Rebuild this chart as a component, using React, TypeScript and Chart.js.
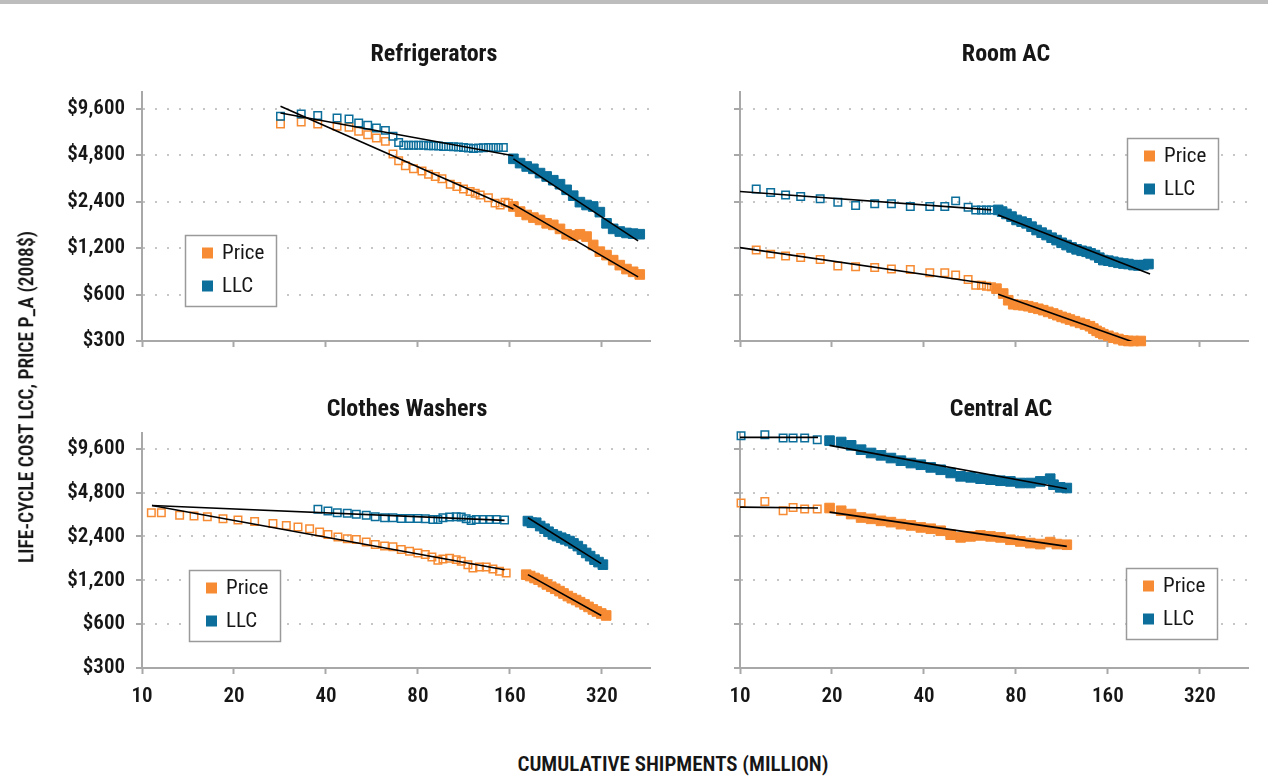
import React, { useEffect, useRef } from "react";
import { Chart, registerables } from "chart.js";

Chart.register(...registerables);

const FONT_FAMILY = "Roboto, 'Open Sans', sans-serif";
const TEXT = "#161616";
const ORANGE = "#F68B33";
const BLUE = "#0B6E9B";
const AXIS = "#A8A8A8";
const GRID = "#C6C6C6";

// ---- axis ticks ----
const xTickValues = [10, 20, 40, 80, 160, 320];
const yTickValues = [300, 600, 1200, 2400, 4800, 9600];
const yTickLabels = ["$300", "$600", "$1,200", "$2,400", "$4,800", "$9,600"];
const legendLabels = ["Price", "LLC"];

// ---- Refrigerators ----
const refPriceEarlyX = [28.4, 33.2, 37.6, 43.5, 47.6, 51.2, 54.8, 58.5, 62.6, 66.3, 69.2, 72.8, 77.4, 82.5, 86.7, 91.2, 95.9, 102.1, 107.3, 112.8, 118.6, 123.2, 127.9, 136.1, 143.1, 148.7, 154.3, 158.2];
const refPriceEarlyY = [7630, 7860, 7630, 7370, 7260, 6840, 6510, 6190, 5890, 4880, 4410, 4090, 3910, 3790, 3610, 3490, 3370, 3110, 3000, 2900, 2790, 2720, 2650, 2540, 2345, 2280, 2380, 2345];
const refLlcEarlyX = [28.4, 33.2, 37.6, 43.5, 47.6, 51.2, 54.8, 58.5, 62.6, 66.3, 69.2, 71.9, 74.6, 77.4, 80.4, 83.5, 86.7, 90.0, 93.5, 97.1, 100.8, 104.6, 108.6, 112.8, 117.1, 121.6, 126.2, 131.1, 136.1, 141.3, 146.7, 152.3];
const refLlcEarlyY = [8560, 8860, 8650, 8350, 8230, 7740, 7480, 7190, 6940, 6350, 5800, 5550, 5550, 5550, 5550, 5550, 5520, 5520, 5500, 5460, 5460, 5430, 5410, 5380, 5330, 5300, 5330, 5350, 5380, 5380, 5380, 5380];
const refLlcLateX = [164.3, 172.8, 181.6, 191.0, 200.8, 211.1, 221.9, 233.4, 245.4, 257.9, 271.2, 285.2, 299.8, 315.2, 331.5, 348.5, 366.3, 385.3, 405.0, 425.8];
const refLlcLateY = [4540, 4260, 4050, 3910, 3670, 3490, 3300, 3110, 2860, 2620, 2380, 2280, 2230, 2050, 1735, 1597, 1535, 1503, 1488, 1475];
const refPriceLateX = [164.3, 172.8, 181.6, 191.0, 200.8, 211.1, 221.9, 233.4, 245.4, 257.9, 271.2, 285.2, 299.8, 315.2, 331.5, 348.5, 366.3, 385.3, 405.0, 425.8];
const refPriceLateY = [2230, 2067, 1965, 1890, 1825, 1735, 1695, 1597, 1474, 1445, 1474, 1424, 1257, 1137, 1080, 1002, 930, 877, 842, 809];
const refFitPriceEarlyX = [28.4, 164.3];
const refFitPriceEarlyY = [9940, 2150];
const refFitLlcEarlyX = [28.4, 164.3];
const refFitLlcEarlyY = [8990, 4750];
const refFitLlcLateX = [164.3, 420.5];
const refFitLlcLateY = [4540, 1336];
const refFitPriceLateX = [164.3, 420.5];
const refFitPriceLateY = [2300, 780];

// ---- Room AC ----
const racLlcEarlyX = [11.3, 12.6, 14.1, 15.8, 18.3, 20.9, 23.9, 27.6, 31.3, 36.1, 41.8, 46.8, 50.8, 55.8, 59.1, 61.7, 64.1, 66.5];
const racLlcEarlyY = [2890, 2750, 2650, 2590, 2500, 2375, 2260, 2320, 2320, 2230, 2230, 2230, 2425, 2205, 2120, 2120, 2120, 2120];
const racPriceEarlyX = [11.3, 12.6, 14.1, 15.8, 18.3, 20.9, 23.9, 27.6, 31.3, 36.1, 41.8, 46.8, 50.8, 55.8, 59.1, 61.7, 64.1, 66.5];
const racPriceEarlyY = [1165, 1096, 1065, 1044, 1012, 917, 908, 899, 877, 872, 829, 829, 802, 750, 690, 690, 680, 673];
const racLlcLateX = [70.0, 72.1, 74.5, 77.4, 80.4, 83.5, 86.7, 90.0, 93.5, 97.1, 100.8, 104.7, 108.7, 112.9, 117.2, 121.7, 126.4, 131.3, 136.3, 140.5, 145.2, 150.0, 154.6, 160.6, 166.8, 173.2, 179.9, 186.7, 194.0, 201.4, 209.2, 217.2];
const racLlcLateY = [2120, 2066, 1995, 1918, 1825, 1779, 1735, 1651, 1570, 1510, 1457, 1400, 1351, 1298, 1255, 1211, 1177, 1152, 1135, 1108, 1080, 1039, 1003, 994, 978, 963, 952, 945, 931, 926, 931, 945];
const racPriceLateX = [69.1, 72.7, 75.5, 78.4, 81.4, 84.5, 87.8, 91.1, 94.7, 98.3, 102.1, 106.0, 109.3, 112.9, 116.6, 120.2, 124.8, 129.7, 134.6, 139.8, 143.4, 147.0, 150.8, 154.6, 160.6, 166.8, 173.2, 179.9, 186.7, 194.0, 205.0];
const racPriceLateY = [655, 609, 551, 519, 514, 511, 504, 494, 485, 475, 463, 452, 441, 430, 422, 413, 403, 393, 384, 374, 361, 349, 340, 332, 324, 315, 309, 303, 300, 300, 300];
const racFitLlcEarlyX = [10, 66.5];
const racFitLlcEarlyY = [2790, 2120];
const racFitPriceEarlyX = [10, 66.5];
const racFitPriceEarlyY = [1207, 700];
const racFitLlcLateX = [70, 219.9];
const racFitLlcLateY = [1966, 814];
const racFitPriceLateX = [70, 198.9];
const racFitPriceLateY = [603, 290];

// ---- Clothes Washers ----
const cwPriceEarlyX = [10.73, 11.57, 13.28, 14.8, 16.36, 18.41, 20.61, 23.37, 26.83, 29.67, 32.4, 35.37, 38.14, 40.61, 43.78, 46.98, 50.28, 54.2, 58.0, 62.24, 66.27, 70.56, 75.13, 80.0, 84.56, 88.9, 93.0, 96.6, 101.6, 106.8, 110.9, 116.6, 121.1, 127.3, 133.9, 140.8, 148.0, 155.6];
const cwPriceEarlyY = [3490, 3490, 3347, 3312, 3277, 3173, 3107, 3041, 2947, 2856, 2782, 2710, 2571, 2478, 2375, 2313, 2290, 2195, 2115, 2060, 2038, 1949, 1897, 1848, 1800, 1735, 1646, 1680, 1699, 1663, 1620, 1536, 1457, 1480, 1480, 1434, 1382, 1346];
const cwLlcEarlyX = [37.66, 40.61, 43.56, 46.98, 50.28, 54.2, 58.0, 62.24, 66.27, 70.56, 75.13, 80.0, 84.56, 89.6, 93.0, 96.6, 101.6, 106.8, 110.9, 115.1, 119.5, 124.2, 130.6, 137.3, 144.3, 153.7];
const cwLlcEarlyY = [3680, 3584, 3490, 3455, 3400, 3347, 3277, 3225, 3225, 3190, 3190, 3190, 3173, 3140, 3140, 3225, 3260, 3277, 3260, 3173, 3090, 3140, 3140, 3140, 3140, 3107];
const cwLlcLateX = [183.3, 188.8, 195.1, 201.1, 207.8, 214.1, 221.2, 228.0, 235.6, 242.7, 250.8, 258.4, 267.0, 275.3, 284.4, 293.0, 302.8, 312.1, 322.5];
const cwLlcLateY = [3058, 2978, 2978, 2826, 2710, 2583, 2478, 2412, 2350, 2290, 2230, 2148, 2060, 1949, 1848, 1757, 1663, 1599, 1536];
const cwPriceLateX = [181.0, 186.5, 192.7, 198.6, 205.2, 211.4, 218.5, 225.2, 232.6, 239.7, 247.7, 255.2, 263.7, 271.7, 280.8, 289.4, 299.0, 308.2, 318.5, 330.6];
const cwPriceLateY = [1311, 1283, 1244, 1211, 1166, 1124, 1083, 1049, 1011, 974, 935, 904, 878, 849, 819, 788, 757, 733, 710, 688];
const cwFitPriceEarlyX = [10.78, 153.7];
const cwFitPriceEarlyY = [3914, 1419];
const cwFitLlcEarlyX = [10.78, 153.7];
const cwFitLlcEarlyY = [3914, 3090];
const cwFitLlcLateX = [183.3, 318.5];
const cwFitLlcLateY = [3225, 1561];
const cwFitPriceLateX = [183.3, 318.5];
const cwFitPriceLateY = [1311, 688];

// ---- Central AC ----
const cacLlcEarlyX = [10.08, 12.06, 13.84, 14.92, 16.28, 17.9];
const cacLlcEarlyY = [11790, 11980, 11360, 11360, 11360, 11070];
const cacPriceEarlyX = [10.08, 12.06, 13.84, 14.92, 16.28, 17.9];
const cacPriceEarlyY = [4062, 4173, 3600, 3795, 3700, 3700];
const cacLlcLateX = [19.64, 21.44, 23.11, 24.91, 26.85, 28.94, 31.19, 33.63, 36.25, 39.07, 42.11, 45.4, 48.93, 52.74, 56.85, 61.27, 66.06, 71.2, 76.75, 82.72, 89.18, 96.12, 103.6, 106.2, 111.7, 117.4];
const cacLlcLateY = [10900, 10670, 10120, 9450, 8970, 8640, 8280, 7940, 7650, 7450, 7140, 6880, 6540, 6200, 6100, 5975, 5880, 5785, 5725, 5580, 5580, 5725, 5975, 5432, 5210, 5155];
const cacPriceLateX = [19.64, 21.44, 23.11, 24.91, 26.85, 28.94, 31.19, 33.63, 36.25, 39.07, 42.11, 45.4, 48.93, 52.74, 56.85, 61.27, 66.06, 71.2, 76.75, 82.72, 89.18, 96.12, 103.6, 108.9, 117.4];
const cacPriceLateY = [3758, 3600, 3417, 3236, 3168, 3070, 3007, 2914, 2854, 2766, 2709, 2624, 2465, 2362, 2400, 2438, 2400, 2362, 2276, 2217, 2160, 2126, 2194, 2126, 2104];
const cacFitLlcEarlyX = [10, 18];
const cacFitLlcEarlyY = [11480, 11480];
const cacFitPriceEarlyX = [10, 18];
const cacFitPriceEarlyY = [3814, 3758];
const cacFitLlcLateX = [19.64, 117.4];
const cacFitLlcLateY = [10120, 5100];
const cacFitPriceLateX = [19.64, 117.4];
const cacFitPriceLateY = [3525, 2049];

type XY = { x: number[]; y: number[] };

interface PanelDef {
  title: string;
  left: number; top: number; width: number; height: number;
  plotLeft: number; plotTop: number; plotRight: number; plotBottom: number;
  titleX: number; titleY: number;
  legendX: number; legendY: number;
  showY: boolean; showX: boolean;
  llcEarly: XY; priceEarly: XY; llcLate: XY; priceLate: XY;
  fits: XY[];
}

const panels: PanelDef[] = [
  {
    title: "Refrigerators", left: 0, top: 0, width: 670, height: 375,
    plotLeft: 142, plotTop: 92, plotRight: 650, plotBottom: 341,
    titleX: 434, titleY: 55, legendX: 185, legendY: 235, showY: true, showX: false,
    llcEarly: { x: refLlcEarlyX, y: refLlcEarlyY }, priceEarly: { x: refPriceEarlyX, y: refPriceEarlyY },
    llcLate: { x: refLlcLateX, y: refLlcLateY }, priceLate: { x: refPriceLateX, y: refPriceLateY },
    fits: [
      { x: refFitPriceEarlyX, y: refFitPriceEarlyY }, { x: refFitLlcEarlyX, y: refFitLlcEarlyY },
      { x: refFitLlcLateX, y: refFitLlcLateY }, { x: refFitPriceLateX, y: refFitPriceLateY },
    ],
  },
  {
    title: "Room AC", left: 670, top: 0, width: 598, height: 375,
    plotLeft: 740, plotTop: 92, plotRight: 1248, plotBottom: 341,
    titleX: 1006, titleY: 55, legendX: 1127, legendY: 138, showY: false, showX: false,
    llcEarly: { x: racLlcEarlyX, y: racLlcEarlyY }, priceEarly: { x: racPriceEarlyX, y: racPriceEarlyY },
    llcLate: { x: racLlcLateX, y: racLlcLateY }, priceLate: { x: racPriceLateX, y: racPriceLateY },
    fits: [
      { x: racFitLlcEarlyX, y: racFitLlcEarlyY }, { x: racFitPriceEarlyX, y: racFitPriceEarlyY },
      { x: racFitLlcLateX, y: racFitLlcLateY }, { x: racFitPriceLateX, y: racFitPriceLateY },
    ],
  },
  {
    title: "Clothes Washers", left: 0, top: 375, width: 670, height: 345,
    plotLeft: 142, plotTop: 433, plotRight: 650, plotBottom: 668,
    titleX: 407, titleY: 410, legendX: 189, legendY: 570, showY: true, showX: true,
    llcEarly: { x: cwLlcEarlyX, y: cwLlcEarlyY }, priceEarly: { x: cwPriceEarlyX, y: cwPriceEarlyY },
    llcLate: { x: cwLlcLateX, y: cwLlcLateY }, priceLate: { x: cwPriceLateX, y: cwPriceLateY },
    fits: [
      { x: cwFitPriceEarlyX, y: cwFitPriceEarlyY }, { x: cwFitLlcEarlyX, y: cwFitLlcEarlyY },
      { x: cwFitLlcLateX, y: cwFitLlcLateY }, { x: cwFitPriceLateX, y: cwFitPriceLateY },
    ],
  },
  {
    title: "Central AC", left: 670, top: 375, width: 598, height: 345,
    plotLeft: 740, plotTop: 433, plotRight: 1248, plotBottom: 668,
    titleX: 1001, titleY: 410, legendX: 1126, legendY: 568, showY: false, showX: true,
    llcEarly: { x: cacLlcEarlyX, y: cacLlcEarlyY }, priceEarly: { x: cacPriceEarlyX, y: cacPriceEarlyY },
    llcLate: { x: cacLlcLateX, y: cacLlcLateY }, priceLate: { x: cacPriceLateX, y: cacPriceLateY },
    fits: [
      { x: cacFitLlcEarlyX, y: cacFitLlcEarlyY }, { x: cacFitPriceEarlyX, y: cacFitPriceEarlyY },
      { x: cacFitLlcLateX, y: cacFitLlcLateY }, { x: cacFitPriceLateX, y: cacFitPriceLateY },
    ],
  },
];

const pts = (s: XY) => s.x.map((x, i) => ({ x, y: s.y[i] }));

const decorPlugin = {
  id: "panelDecor",
  afterDraw(chart: any, _args: any, opts: any) {
    const ctx = chart.ctx;
    ctx.save();
    // panel title
    ctx.fillStyle = TEXT;
    ctx.font = `bold condensed 24px ${FONT_FAMILY}`;
    ctx.textAlign = "center";
    ctx.textBaseline = "middle";
    ctx.fillText(opts.title, opts.titleX, opts.titleY);
    // legend box
    const bx = opts.legendX, by = opts.legendY, bw = 91, bh = 71;
    ctx.fillStyle = "#ffffff";
    ctx.fillRect(bx, by, bw, bh);
    ctx.strokeStyle = "#9a9a9a";
    ctx.lineWidth = 1.5;
    ctx.strokeRect(bx + 0.5, by + 0.5, bw, bh);
    const colors = [ORANGE, BLUE];
    ctx.font = `condensed 21px ${FONT_FAMILY}`;
    ctx.textAlign = "left";
    legendLabels.forEach((lab, i) => {
      const cy = by + 18 + i * 33;
      ctx.fillStyle = colors[i];
      ctx.fillRect(bx + 17, cy - 5.5, 11, 11);
      ctx.fillStyle = TEXT;
      ctx.fillText(lab, bx + 37, cy + 1);
    });
    ctx.restore();
  },
};

function buildConfig(p: PanelDef): any {
  const marker = (s: XY, color: string, filled: boolean) => ({
    data: pts(s),
    showLine: false,
    pointStyle: "rect",
    pointRadius: filled ? 6.8 : 5.3,
    pointHoverRadius: filled ? 6.8 : 5.3,
    pointBackgroundColor: filled ? color : "rgba(255,255,255,0)",
    backgroundColor: filled ? color : "rgba(255,255,255,0)",
    pointBorderColor: color,
    borderColor: color,
    pointBorderWidth: filled ? 1 : 1.5,
    clip: false,
  });
  const fit = (s: XY) => ({
    data: pts(s),
    showLine: true,
    borderColor: "#000000",
    backgroundColor: "#000000",
    borderWidth: 1.6,
    pointRadius: 0,
    pointHoverRadius: 0,
    fill: false,
  });
  const datasets = [
    ...p.fits.map(fit),
    marker(p.llcEarly, BLUE, false),
    marker(p.llcLate, BLUE, true),
    marker(p.priceEarly, ORANGE, false),
    marker(p.priceLate, ORANGE, true),
  ];
  const tickFont = { family: FONT_FAMILY, size: 21, weight: "600 condensed" };
  return {
    type: "scatter",
    data: { datasets },
    plugins: [decorPlugin],
    options: {
      animation: false,
      responsive: false,
      events: [],
      layout: {
        padding: { top: p.plotTop - p.top, right: p.left + p.width - p.plotRight, left: 0, bottom: 0 },
      },
      plugins: {
        legend: { display: false },
        tooltip: { enabled: false },
        title: { display: false },
        panelDecor: {
          title: p.title,
          titleX: p.titleX - p.left,
          titleY: p.titleY - p.top,
          legendX: p.legendX - p.left,
          legendY: p.legendY - p.top,
        },
      },
      scales: {
        x: {
          type: "logarithmic",
          min: 10,
          max: 460,
          bounds: "data",
          afterBuildTicks: (s: any) => { s.ticks = xTickValues.map((v) => ({ value: v })); },
          afterFit: (s: any) => { s.height = p.top + p.height - p.plotBottom; },
          ticks: {
            display: p.showX,
            autoSkip: false,
            maxRotation: 0,
            padding: 10,
            color: TEXT,
            font: tickFont,
            callback: (v: any) => String(v),
          },
          grid: { display: true, drawOnChartArea: false, drawTicks: true, tickLength: 6, tickColor: AXIS, tickWidth: 2 },
          border: { display: true, color: AXIS, width: 2 },
        },
        y: {
          type: "logarithmic",
          min: 300,
          max: 12300,
          bounds: "data",
          afterBuildTicks: (s: any) => { s.ticks = yTickValues.map((v) => ({ value: v })); },
          afterFit: (s: any) => { s.width = p.plotLeft - p.left; },
          ticks: {
            display: p.showY,
            autoSkip: false,
            padding: 11,
            color: TEXT,
            font: tickFont,
            callback: (_v: any, i: number) => yTickLabels[i],
          },
          grid: {
            display: true, drawOnChartArea: true, drawTicks: true, tickLength: 6,
            color: GRID, lineWidth: 2, tickColor: AXIS, tickWidth: 2, tickBorderDash: [],
          },
          border: { display: true, color: AXIS, width: 2, dash: [2, 10] },
        },
      },
    },
  };
}

function Panel({ p }: { p: PanelDef }) {
  const ref = useRef<HTMLCanvasElement | null>(null);
  useEffect(() => {
    const chart = new Chart(ref.current as HTMLCanvasElement, buildConfig(p));
    return () => chart.destroy();
  }, [p]);
  return (
    <canvas
      ref={ref}
      width={p.width}
      height={p.height}
      style={{ position: "absolute", left: p.left, top: p.top, width: p.width, height: p.height }}
    />
  );
}

export default function App() {
  const titleStyle: React.CSSProperties = {
    position: "absolute",
    fontFamily: FONT_FAMILY,
    fontWeight: 600,
    fontStretch: "condensed",
    color: TEXT,
    whiteSpace: "nowrap",
    lineHeight: 1,
  };
  return (
    <div style={{ position: "absolute", left: 0, top: 0, width: 1268, height: 780, background: "#fff", overflow: "hidden" }}>
      <div style={{ position: "absolute", left: 0, top: 0, width: 1268, height: 4, background: "#BDBDBD" }} />
      {panels.map((p) => (
        <Panel key={p.title} p={p} />
      ))}
      <div style={{ ...titleStyle, fontSize: 19.5, left: 27, top: 397, transform: "translate(-50%, -50%) rotate(-90deg)" }}>
        LIFE-CYCLE COST LCC, PRICE P_A (2008$)
      </div>
      <div style={{ ...titleStyle, fontSize: 21, left: 673, top: 764, transform: "translate(-50%, -50%)" }}>
        CUMULATIVE SHIPMENTS (MILLION)
      </div>
    </div>
  );
}
